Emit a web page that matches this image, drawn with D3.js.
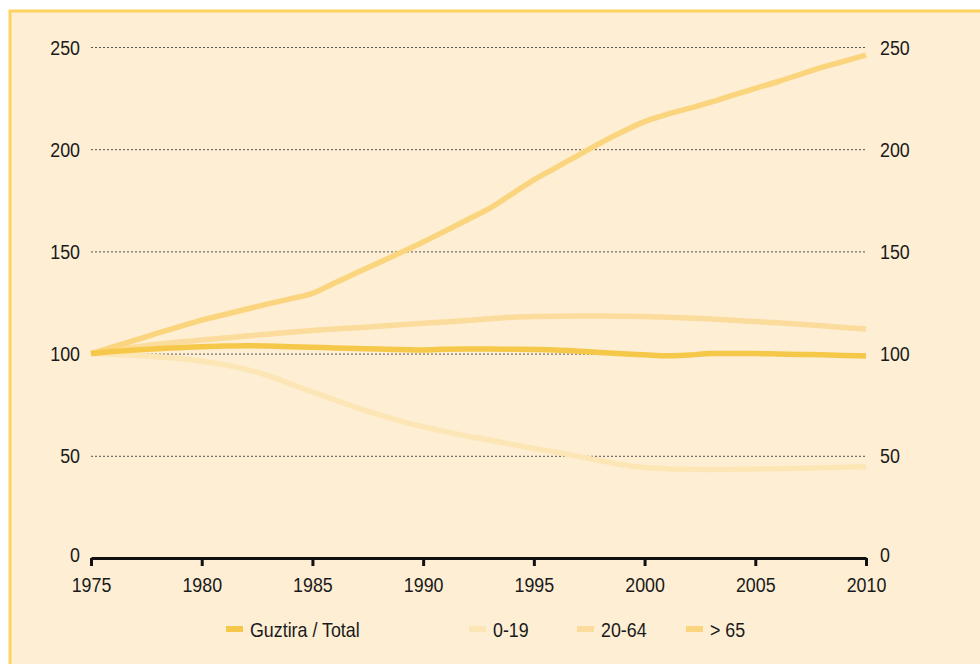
<!DOCTYPE html>
<html>
<head>
<meta charset="utf-8">
<script src="https://cdn.jsdelivr.net/npm/d3@7"></script>
<style>
  body { margin: 0; background: #fff; }
  svg text { font-family: "Liberation Sans Narrow", "Liberation Sans", sans-serif; fill: #1a1a1a; }
</style>
</head>
<body>
<div id="chart"></div>
<script>
var years = d3.range(1975, 2011);
var total = [100, 101, 101.8, 102.4, 102.9, 103.4, 103.7, 103.9, 103.7, 103.4, 103.1, 102.8, 102.5, 102.2, 102, 101.8, 102.1, 102.2, 102.2, 102.1, 102, 101.8, 101.2, 100.5, 99.9, 99.4, 98.9, 99.3, 100, 100, 100, 99.8, 99.6, 99.4, 99.1, 98.8];
var age0to19 = [100, 99.7, 99.2, 98.5, 97.6, 96.3, 94.6, 92.3, 89.2, 85.2, 81.2, 77.4, 73.6, 70.1, 67, 64.2, 61.8, 59.6, 57.7, 55.6, 53.6, 51.8, 49.7, 47.6, 45.6, 44.3, 43.7, 43.4, 43.3, 43.4, 43.5, 43.7, 43.9, 44.1, 44.4, 44.7];
var age20to64 = [100, 101.8, 103.3, 104.6, 105.7, 106.6, 107.6, 108.6, 109.5, 110.5, 111.3, 112, 112.7, 113.4, 114.1, 114.8, 115.5, 116.2, 117, 117.8, 118.1, 118.3, 118.4, 118.4, 118.3, 118.1, 117.8, 117.4, 116.9, 116.3, 115.7, 115.1, 114.4, 113.6, 112.8, 112];
var age65 = [100, 103.3, 106.6, 110, 113.2, 116.4, 119, 121.7, 124.3, 126.8, 129.5, 134.5, 139.5, 144.5, 149.5, 154.6, 160, 165.5, 171, 178, 185, 191, 197, 203, 208.5, 213.5, 217, 220, 223, 226.5, 229.8, 233, 236.5, 240, 243, 246];
var xTicks = [1975, 1980, 1985, 1990, 1995, 2000, 2005, 2010];
var yTicks = [0, 50, 100, 150, 200, 250];

var series = [
  { name: "0-19", values: age0to19, color: "#fde6b6" },
  { name: "20-64", values: age20to64, color: "#fcdc9c" },
  { name: "> 65", values: age65, color: "#fbd57e" },
  { name: "Guztira / Total", values: total, color: "#f6c84a" }
];
var legendOrder = [3, 0, 1, 2];

var width = 980, height = 664;
var narrow = 0.85; // squeeze text to look like the condensed face of the original
var fs = 21;
var svg = d3.select("#chart").append("svg")
  .attr("width", width).attr("height", height);

// panel
svg.append("rect").attr("x", 10).attr("y", 11).attr("width", 980).attr("height", 700)
  .attr("fill", "#fdeed4").attr("stroke", "#fcd261").attr("stroke-width", 3);

var x = d3.scaleLinear().domain([1975, 2010]).range([91, 866]);
var y = d3.scaleLinear().domain([0, 250]).range([558, 47]);

// dotted grid
svg.append("g").selectAll("line").data(yTicks.filter(d => d > 0)).enter().append("line")
  .attr("x1", x(1975)).attr("x2", x(2010))
  .attr("y1", d => y(d) + 0.5).attr("y2", d => y(d) + 0.5)
  .attr("stroke", "#555").attr("stroke-width", 1).attr("stroke-dasharray", "2,2");

// y labels both sides
function yLabels(xPos, anchor) {
  svg.append("g").selectAll("text").data(yTicks).enter().append("text")
    .attr("transform", d => "translate(" + xPos + "," + (y(d) - (d === 0 ? 4 : 0)) + ") scale(" + narrow + ",1)")
    .attr("text-anchor", anchor).attr("dominant-baseline", "central")
    .attr("font-size", fs).text(d => d);
}
yLabels(80, "end");
yLabels(880, "start");

// lines
var line = d3.line().x((d, i) => x(years[i])).y(d => y(d)).curve(d3.curveMonotoneX);
svg.append("g").selectAll("path").data(series).enter().append("path")
  .attr("d", d => line(d.values))
  .attr("fill", "none").attr("stroke", d => d.color)
  .attr("stroke-width", 5.5);

// x axis
var xAxis = d3.axisBottom(x).tickValues(xTicks).tickFormat(d3.format("d")).tickSize(8).tickSizeOuter(0).tickPadding(11);
var gx = svg.append("g").attr("transform", "translate(0," + y(0) + ")").call(xAxis);
gx.select(".domain").attr("stroke", "#111").attr("stroke-width", 3);
gx.selectAll(".tick line").attr("stroke", "#111").attr("stroke-width", 3);
gx.selectAll(".tick text").attr("font-size", fs)
  .attr("font-family", "Liberation Sans Narrow, Liberation Sans, sans-serif")
  .attr("fill", "#1a1a1a").attr("transform", "scale(" + narrow + ",1)");

// legend
var legendX = [226, 469, 577, 686];
var lg = svg.append("g").selectAll("g").data(legendOrder).enter().append("g")
  .attr("transform", (d, i) => "translate(" + legendX[i] + ",629)");
lg.append("rect").attr("x", 0).attr("y", -3).attr("width", 17).attr("height", 6)
  .attr("fill", d => series[d].color);
lg.append("text").attr("transform", "translate(24,0) scale(" + narrow + ",1)")
  .attr("dominant-baseline", "central")
  .attr("font-size", fs).text(d => series[d].name);
</script>
</body>
</html>
